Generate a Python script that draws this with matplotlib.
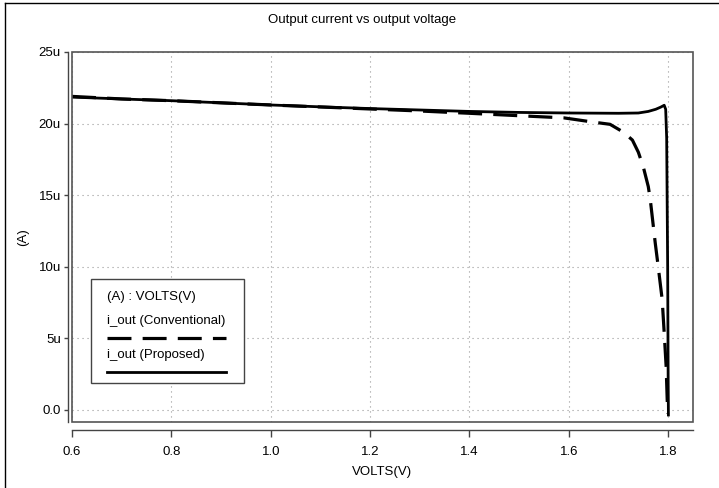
import matplotlib
matplotlib.use("Agg")
import matplotlib.pyplot as plt
from matplotlib.lines import Line2D

plt.rcParams['font.family'] = ['Liberation Sans', 'DejaVu Sans']

# data (volts, micro-amps)
v_prop = [0.6, 0.7, 0.8, 0.9, 1.0, 1.1, 1.2, 1.3, 1.4, 1.5, 1.6, 1.7, 1.74, 1.76,
          1.775, 1.785, 1.792, 1.795, 1.797, 1.799, 1.800, 1.8005]
i_prop = [21.85, 21.72, 21.6, 21.45, 21.3, 21.17, 21.05, 20.95, 20.85, 20.78, 20.74,
          20.72, 20.74, 20.85, 21.0, 21.15, 21.28, 21.0, 19.0, 10.0, 2.0, -0.35]

v_conv = [0.6, 0.7, 0.8, 0.9, 1.0, 1.1, 1.2, 1.3, 1.4, 1.5, 1.59, 1.65, 1.683, 1.71,
          1.728, 1.74, 1.75, 1.76, 1.764, 1.774, 1.78, 1.788, 1.792, 1.796, 1.798, 1.799]
i_conv = [21.9, 21.72, 21.6, 21.45, 21.3, 21.16, 21.02, 20.88, 20.72, 20.55, 20.4, 20.1,
          19.95, 19.4, 18.85, 18.0, 16.97, 15.6, 14.7, 11.66, 10.0, 7.7, 5.4, 3.0, 0.8, -0.25]

x_ticks = [0.6, 0.8, 1.0, 1.2, 1.4, 1.6, 1.8]
x_labels = ["0.6", "0.8", "1.0", "1.2", "1.4", "1.6", "1.8"]
y_ticks = [0, 5, 10, 15, 20, 25]
y_labels = ["0.0", "5u", "10u", "15u", "20u", "25u"]

W, H = 719, 488
FS = 9.5
fig = plt.figure(figsize=(W / 100, H / 100), dpi=100)
ax = fig.add_axes([72 / W, (H - 422) / H, (693 - 72) / W, (422 - 52) / H])

ax.plot(v_conv, i_conv, color='black', lw=2.3, linestyle=(0, (7.5, 3.5)))
ax.plot(v_prop, i_prop, color='black', lw=2.0)

ax.set_xlim(0.6, 1.85)
ax.set_ylim(-0.84, 25)
ax.set_xticks(x_ticks)
ax.set_xticklabels(x_labels)
ax.set_yticks(y_ticks)
ax.set_yticklabels(y_labels)

# detached axis lines like the simulator output
ax.spines['left'].set_position(('outward', 3))
ax.spines['bottom'].set_position(('outward', 6))
ax.spines['top'].set_visible(False)
ax.spines['right'].set_visible(False)
for s in ('left', 'bottom'):
    ax.spines[s].set_color('#444444')
    ax.spines[s].set_linewidth(1.0)
ax.add_patch(plt.Rectangle((0, 0), 1, 1, transform=ax.transAxes, fill=False,
                           edgecolor='#555555', lw=1.2, clip_on=False, zorder=5))

ax.tick_params(axis='x', length=5, width=1, color='#444444', labelsize=FS, pad=6)
ax.tick_params(axis='y', length=3, width=1, color='#444444', labelsize=FS, pad=2)
ax.grid(True, color='#999999', linestyle=(0, (1, 3.5)), lw=0.8)

ax.set_xlabel("VOLTS(V)", fontsize=FS, labelpad=6)
ax.set_ylabel("(A)", fontsize=FS, labelpad=7)
fig.text(362 / W, 1 - 20 / H, "Output current vs output voltage", ha='center', va='center',
         fontsize=FS)

# legend box drawn by hand (labels above line samples)
fig.patches.append(plt.Rectangle((91 / W, 1 - 383 / H), (244 - 91) / W, (383 - 279) / H,
                                 transform=fig.transFigure, fill=True, facecolor='white',
                                 edgecolor='#444444', lw=1.0, zorder=10))
fig.text(107 / W, 1 - 297 / H, "(A) : VOLTS(V)", fontsize=FS, va='center', zorder=11)
fig.text(107 / W, 1 - 321 / H, "i_out (Conventional)", fontsize=FS, va='center', zorder=11)
fig.text(107 / W, 1 - 355 / H, "i_out (Proposed)", fontsize=FS, va='center', zorder=11)
fig.lines.append(Line2D([107 / W, 226 / W], [1 - 338 / H, 1 - 338 / H], transform=fig.transFigure,
                        color='black', lw=2.3, linestyle=(0, (7.5, 3.5)), zorder=11))
fig.lines.append(Line2D([107 / W, 226 / W], [1 - 372 / H, 1 - 372 / H], transform=fig.transFigure,
                        color='black', lw=2.0, zorder=11))

# frame lines at the image edge
fig.lines.append(Line2D([5 / W, 5 / W], [0, 1 - 3 / H], transform=fig.transFigure, color='black', lw=1))
fig.lines.append(Line2D([5 / W, 1], [1 - 3 / H, 1 - 3 / H], transform=fig.transFigure, color='black', lw=1))

fig.savefig("out.png", dpi=100)
